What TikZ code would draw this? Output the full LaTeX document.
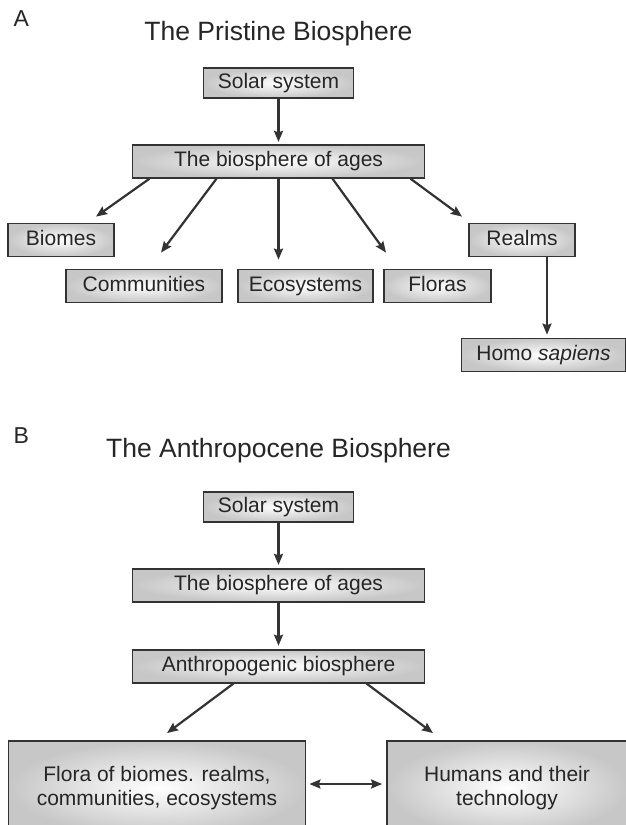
\documentclass[tikz,border=0pt]{standalone}
\usepackage{fontspec}
\setmainfont{Liberation Sans}
\usetikzlibrary{arrows.meta,positioning}
\tikzset{
  box/.style={rectangle, draw=black!80, line width=1.8pt, inner color=white, outer color=black!22, align=center, text=black!85, font=\fontsize{21}{24}\selectfont, inner sep=0pt, minimum height=33pt},
  sbox/.style={box, text height=15pt, text depth=4.5pt},
  title/.style={anchor=base, text=black!85, font=\fontsize{26.5}{30}\selectfont},
  panel/.style={anchor=base west, text=black!85, font=\fontsize{23}{26}\selectfont},
  arr/.style={-{Stealth[length=11pt, width=9pt, inset=1.5pt]}, line width=2.2pt, draw=black!80},
  dblarr/.style={{Stealth[length=11pt, width=9pt, inset=1.5pt]}-{Stealth[length=11pt, width=9pt, inset=1.5pt]}, line width=2.2pt, draw=black!80}
}
\begin{document}
\begin{tikzpicture}[x=1pt, y=-1pt, node distance=45pt]
\useasboundingbox[fill=white] (0,0) rectangle (625,825);

% panel A
\node[panel] (labA) at (10,26) {A};
\node[title] (titleA) at (278.5,40) {The Pristine Biosphere};
\node[sbox, minimum width=150pt, minimum height=30pt] (solarA) at (278.5,83) {Solar system};
\node[sbox, minimum width=292pt, below=of solarA] (bioA) {The biosphere of ages};
\node[sbox, minimum width=106pt] (biomes) at (61,240) {Biomes};
\node[sbox, minimum width=156pt] (comm) at (144,286) {Communities};
\node[sbox, minimum width=135pt] (eco) at (305.5,286) {Ecosystems};
\node[sbox, minimum width=107pt] (floras) at (437.5,286) {Floras};
\node[sbox, minimum width=106pt] (realms) at (522,240) {Realms};
\node[sbox, minimum width=164pt] (homo) at (543.5,355) {Homo \textit{sapiens}};

\draw[arr, shorten >=2pt] (solarA) -- (bioA);
\draw[arr] ([xshift=-129pt]bioA.south) -- ([xshift=35pt, yshift=6pt]biomes.north);
\draw[arr] ([xshift=-62pt]bioA.south) -- ([xshift=17pt, yshift=16pt]comm.north);
\draw[arr, shorten >=9pt] (bioA.south) -- (bioA.south |- eco.north);
\draw[arr] ([xshift=54pt]bioA.south) -- ([xshift=-51.5pt, yshift=16pt]floras.north);
\draw[arr] ([xshift=132pt]bioA.south) -- ([xshift=-60pt, yshift=6pt]realms.north);
\draw[arr, shorten >=3pt] ([xshift=25pt]realms.south) -- ([xshift=25pt]realms.south |- homo.north);

% panel B
\node[panel] (labB) at (10,443) {B};
\node[title] (titleB) at (278.5,457) {The Anthropocene Biosphere};
\node[sbox, minimum width=150pt, minimum height=30pt] (solarB) at (278.5,507) {Solar system};
\node[sbox, minimum width=292pt, below=of solarB] (bioB) {The biosphere of ages};
\node[sbox, minimum width=292pt, below=46pt of bioB] (anthro) {Anthropogenic biosphere};
\node[box, minimum width=297pt, minimum height=94pt] (flora) at (157,788) {Flora of biomes. realms,\\communities, ecosystems};
\node[box, minimum width=240pt, minimum height=94pt] (humans) at (507,788) {Humans and their\\technology};

\draw[arr, shorten >=3pt] (solarB) -- (bioB);
\draw[arr, shorten >=3pt] (bioB) -- (anthro);
\draw[arr] ([xshift=-45pt]anthro.south) -- ([xshift=10pt, yshift=7pt]flora.north);
\draw[arr] ([xshift=88pt]anthro.south) -- ([xshift=-74pt, yshift=7pt]humans.north);
\draw[dblarr, shorten <=3pt, shorten >=4pt] ([yshift=4pt]flora.east) -- ([yshift=4pt]humans.west);
\end{tikzpicture}
\end{document}
